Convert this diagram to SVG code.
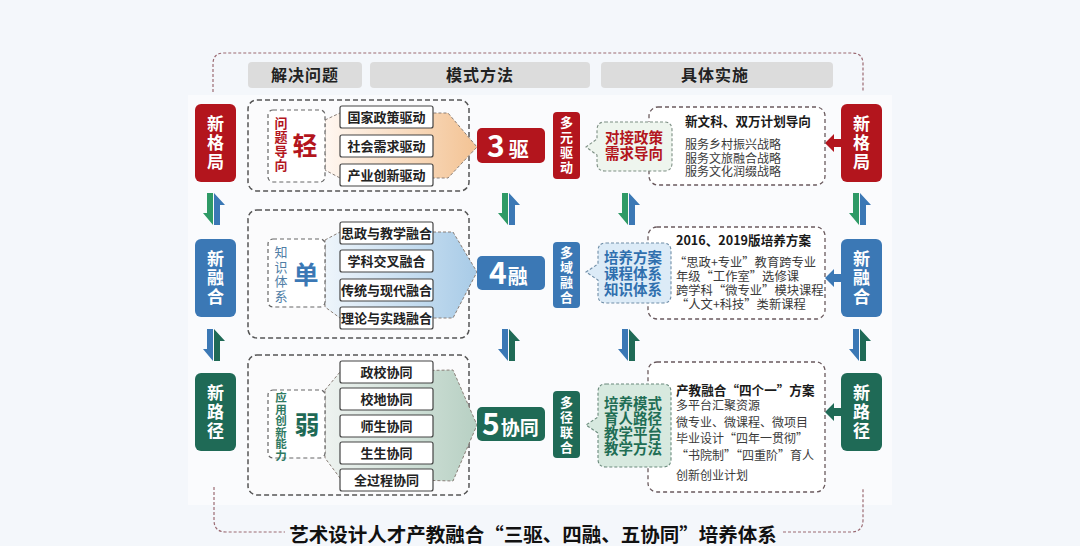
<svg xmlns="http://www.w3.org/2000/svg" width="1080" height="546" viewBox="0 0 1080 546">
<style>
text{font-family:"Noto Sans CJK SC","Noto Sans",sans-serif;}
.hdr{fill:#dcdcdc;}
.hdrt{font-size:16px;font-weight:bold;fill:#222;text-anchor:middle;letter-spacing:1px;}
.nodet{font-size:17px;font-weight:bold;fill:#fff;text-anchor:middle;}
.big{fill:#fbfbfc;stroke:#555;stroke-width:1.5;stroke-dasharray:5 3;}
.inner{fill:#fff;stroke:#666;stroke-width:1.2;stroke-dasharray:4 3;}
.item{fill:#fff;stroke:#444;stroke-width:1.2;}
.itemt{font-size:13px;font-weight:bold;fill:#222;text-anchor:middle;}
.funnel{stroke:#8a7f78;stroke-width:1;stroke-dasharray:3 2;}
.vt{font-size:13px;font-weight:bold;fill:#fff;text-anchor:middle;}
.bt{font-size:14.5px;font-weight:bold;text-anchor:middle;}
.rbox{fill:#fff;stroke:#6a5a5e;stroke-width:1.3;stroke-dasharray:4 3;}
.rt{font-size:12px;fill:#3a3a3a;}
.rtb{font-size:12.6px;font-weight:bold;fill:#1a1a1a;}
.frame{fill:none;stroke:#9b6b73;stroke-width:1.2;stroke-dasharray:3 2;}
.numt{font-weight:bold;fill:#fff;}
</style>
<defs>
<linearGradient id="gRed" x1="0" y1="0" x2="1" y2="0"><stop offset="0" stop-color="#fff7f1"/><stop offset="1" stop-color="#f3c394"/></linearGradient>
<linearGradient id="gBlue" x1="0" y1="0" x2="1" y2="0"><stop offset="0" stop-color="#eef5fb"/><stop offset="1" stop-color="#a8cbe7"/></linearGradient>
<linearGradient id="gGreen" x1="0" y1="0" x2="1" y2="0"><stop offset="0" stop-color="#eef3f0"/><stop offset="1" stop-color="#b7d0c3"/></linearGradient>
<g id="dblA"><polygon points="4,0 10,0 10,32 0,20 4,20" fill="#2e9a66"/><polygon points="11,0 22,12 17,12 17,32 11,32" fill="#3b78b5"/></g>
<g id="dblB"><polygon points="4,0 10,0 10,32 0,20 4,20" fill="#3b78b5"/><polygon points="11,0 22,12 17,12 17,32 11,32" fill="#1f6a56"/></g>
</defs>
<rect x="0" y="0" width="1080" height="546" fill="#f4f7fb"/>
<rect x="188" y="95" width="704" height="410" fill="#fafbfd"/>

<g id="frame">
<path class="frame" d="M213,92 V64 Q213,53 224,53 H852 Q863,53 863,64 V92"/>
<path class="frame" d="M214,487 V520 Q214,532 226,532 H285"/>
<path class="frame" d="M783,532 H851 Q863,532 863,520 V488"/>
</g>

<g id="headers">
<rect class="hdr" x="248" y="62" width="114" height="26" rx="4"/>
<text class="hdrt" x="305" y="81">解决问题</text>
<rect class="hdr" x="370" y="62" width="220" height="26" rx="4"/>
<text class="hdrt" x="480" y="81">模式方法</text>
<rect class="hdr" x="601" y="62" width="232" height="26" rx="4"/>
<text class="hdrt" x="715" y="81">具体实施</text>
</g>

<g id="connectors">
<use href="#dblA" x="203" y="193"/>
<use href="#dblA" x="498" y="193"/>
<use href="#dblA" x="618" y="193"/>
<use href="#dblA" x="849" y="193"/>
<use href="#dblB" x="203" y="329"/>
<use href="#dblB" x="498" y="329"/>
<use href="#dblB" x="618" y="329"/>
<use href="#dblB" x="849" y="329"/>
<polygon points="825,143 834,134 834,139 841,139 841,147 834,147 834,152" fill="#b3151d"/>
<polygon points="825,278 834,269 834,274 841,274 841,282 834,282 834,287" fill="#3b78b5"/>
<polygon points="825,412 834,403 834,408 841,408 841,416 834,416 834,421" fill="#1f6a56"/>
<polygon points="260,146 267,142 267,150" fill="#b8868a"/>
<polygon points="260,273 267,269 267,277" fill="#5a86ad"/>
<polygon points="260,425 267,421 267,429" fill="#2f7a62"/>
</g>

<!-- Left nodes -->
<g id="node-left-1">
<rect x="195" y="104" width="41" height="78" rx="6" fill="#b3151d"/>
<text class="nodet"><tspan x="215.5" y="130">新</tspan><tspan x="215.5" y="149">格</tspan><tspan x="215.5" y="168">局</tspan></text>
</g>
<g id="node-left-2">
<rect x="195" y="239" width="41" height="78" rx="6" fill="#3b78b5"/>
<text class="nodet"><tspan x="215.5" y="265">新</tspan><tspan x="215.5" y="284">融</tspan><tspan x="215.5" y="303">合</tspan></text>
</g>
<g id="node-left-3">
<rect x="195" y="373" width="41" height="78" rx="6" fill="#1f6a56"/>
<text class="nodet"><tspan x="215.5" y="399">新</tspan><tspan x="215.5" y="418">路</tspan><tspan x="215.5" y="437">径</tspan></text>
</g>

<!-- Right nodes -->
<g id="node-right-1">
<rect x="841" y="104" width="41" height="78" rx="6" fill="#b3151d"/>
<text class="nodet"><tspan x="861.5" y="130">新</tspan><tspan x="861.5" y="149">格</tspan><tspan x="861.5" y="168">局</tspan></text>
</g>
<g id="node-right-2">
<rect x="841" y="239" width="41" height="78" rx="6" fill="#3b78b5"/>
<text class="nodet"><tspan x="861.5" y="265">新</tspan><tspan x="861.5" y="284">融</tspan><tspan x="861.5" y="303">合</tspan></text>
</g>
<g id="node-right-3">
<rect x="841" y="373" width="41" height="78" rx="6" fill="#1f6a56"/>
<text class="nodet"><tspan x="861.5" y="399">新</tspan><tspan x="861.5" y="418">路</tspan><tspan x="861.5" y="437">径</tspan></text>
</g>

<!-- Implementation boxes (drawn below the bubbles) -->
<g id="impl-1">
<rect class="rbox" x="649" y="107" width="176" height="78" rx="9"/>
<text class="rtb" x="685" y="126">新文科、双万计划导向</text>
<text class="rt"><tspan x="685" y="149">服务乡村振兴战略</tspan><tspan x="685" y="162.5">服务文旅融合战略</tspan><tspan x="685" y="176">服务文化润缀战略</tspan></text>
</g>
<g id="impl-2">
<rect class="rbox" x="648" y="227" width="177" height="92" rx="9"/>
<text class="rtb" x="676" y="245">2016、2019版培养方案</text>
<text class="rt" style="font-size:12.3px"><tspan x="674" y="267">“思政+专业”教育跨专业</tspan><tspan x="676" y="281">年级“工作室”选修课</tspan><tspan x="676" y="295">跨学科“微专业”模块课程</tspan><tspan x="676" y="309">“人文+科技”类新课程</tspan></text>
</g>
<g id="impl-3">
<rect class="rbox" x="648" y="362" width="177" height="130" rx="9"/>
<text class="rtb" x="676" y="395">产教融合“四个一”方案</text>
<text class="rt"><tspan x="676" y="410">多平台汇聚资源</tspan><tspan x="676" y="427">微专业、微课程、微项目</tspan><tspan x="676" y="443">毕业设计“四年一贯彻”</tspan><tspan x="676" y="460">“书院制”“四重阶”育人</tspan><tspan x="676" y="480">创新创业计划</tspan></text>
</g>

<!-- Row 1 -->
<g id="problem-1">
<rect class="big" x="248" y="100" width="221" height="91" rx="9" fill="#fdf9f7"/>
<polygon class="funnel" points="325,120 340,113 448,113 477,147 448,178 340,178 325,170" fill="url(#gRed)"/>
<rect class="inner" x="268" y="110" width="57" height="72" rx="5"/>
<text style="font-size:13px;font-weight:bold;fill:#b3151d;text-anchor:middle"><tspan x="281" y="128">问</tspan><tspan x="281" y="142">题</tspan><tspan x="281" y="156">导</tspan><tspan x="281" y="170">向</tspan></text>
<text x="305" y="155" style="font-size:25px;font-weight:bold;fill:#b3151d;text-anchor:middle">轻</text>
<rect class="item" x="340" y="106" width="93" height="22" rx="2"/>
<text class="itemt" x="386.5" y="122">国家政策驱动</text>
<rect class="item" x="340" y="135" width="93" height="22" rx="2"/>
<text class="itemt" x="386.5" y="151">社会需求驱动</text>
<rect class="item" x="340" y="164" width="93" height="22" rx="2"/>
<text class="itemt" x="386.5" y="180">产业创新驱动</text>
</g>
<g id="mode-1">
<rect x="477" y="128" width="68" height="35" rx="5" fill="#b3151d"/>
<text class="numt" x="487" y="157"><tspan style="font-size:30px">3</tspan><tspan dx="4" style="font-size:20px">驱</tspan></text>
</g>
<g id="tag-1">
<rect x="553" y="112" width="27" height="67" rx="4" fill="#b3151d"/>
<text class="vt"><tspan x="566.5" y="127">多</tspan><tspan x="566.5" y="142">元</tspan><tspan x="566.5" y="157">驱</tspan><tspan x="566.5" y="172">动</tspan></text>
</g>
<g id="bubble-1">
<path d="M605,122 H664 Q672,122 672,130 V163 Q672,171 664,171 H605 Q597,171 597,163 V155 L586,147 L597,139 V130 Q597,122 605,122 Z" fill="#eef5ee" stroke="#7d8f84" stroke-width="1.1" stroke-dasharray="3 2"/>
<text class="bt" style="fill:#b3151d"><tspan x="634" y="143">对接政策</tspan><tspan x="634" y="159">需求导向</tspan></text>
</g>

<!-- Row 2 -->
<g id="problem-2">
<rect class="big" x="248" y="210" width="221" height="128" rx="9" fill="#fbfcfd"/>
<polygon class="funnel" points="325,240 340,232 453,232 477,272 453,318 340,318 325,307" fill="url(#gBlue)"/>
<rect class="inner" x="268" y="239" width="57" height="68" rx="5"/>
<text style="font-size:13px;fill:#4f7ea6;text-anchor:middle"><tspan x="281" y="257">知</tspan><tspan x="281" y="271.5">识</tspan><tspan x="281" y="286">体</tspan><tspan x="281" y="300.5">系</tspan></text>
<text x="306" y="284" style="font-size:25px;font-weight:bold;fill:#3b78b5;text-anchor:middle">单</text>
<rect class="item" x="340" y="222" width="93" height="22" rx="2"/>
<text class="itemt" x="386.5" y="238">思政与教学融合</text>
<rect class="item" x="340" y="250" width="93" height="22" rx="2"/>
<text class="itemt" x="386.5" y="266">学科交叉融合</text>
<rect class="item" x="340" y="279" width="93" height="22" rx="2"/>
<text class="itemt" x="386.5" y="295">传统与现代融合</text>
<rect class="item" x="340" y="307" width="93" height="22" rx="2"/>
<text class="itemt" x="386.5" y="323">理论与实践融合</text>
</g>
<g id="mode-2">
<rect x="477" y="256" width="68" height="34" rx="5" fill="#3b78b5"/>
<text class="numt" x="489" y="284"><tspan style="font-size:30px">4</tspan><tspan dx="1" style="font-size:20px">融</tspan></text>
</g>
<g id="tag-2">
<rect x="553" y="242" width="27" height="66" rx="4" fill="#3b78b5"/>
<text class="vt"><tspan x="566.5" y="257">多</tspan><tspan x="566.5" y="272">域</tspan><tspan x="566.5" y="287">融</tspan><tspan x="566.5" y="302">合</tspan></text>
</g>
<g id="bubble-2">
<path d="M606,243 H663 Q671,243 671,251 V295 Q671,303 663,303 H606 Q598,303 598,295 V280 L586,272 L598,264 V251 Q598,243 606,243 Z" fill="#dcebf7" stroke="#6f8ea8" stroke-width="1.1" stroke-dasharray="3 2"/>
<text class="bt" style="fill:#2f6fae"><tspan x="633" y="263">培养方案</tspan><tspan x="633" y="279">课程体系</tspan><tspan x="633" y="295">知识体系</tspan></text>
</g>

<!-- Row 3 -->
<g id="problem-3">
<rect class="big" x="248" y="355" width="221" height="140" rx="9" fill="#fbfcfc"/>
<polygon class="funnel" points="325,390 340,372 453,370 477,425 453,481 340,478 325,458" fill="url(#gGreen)"/>
<rect class="inner" x="268" y="390" width="57" height="68" rx="5"/>
<text style="font-size:11.5px;font-weight:bold;fill:#2f7a62;text-anchor:middle"><tspan x="281" y="402">应</tspan><tspan x="281" y="413.5">用</tspan><tspan x="281" y="425">创</tspan><tspan x="281" y="436.5">新</tspan><tspan x="281" y="448">能</tspan><tspan x="281" y="459.5">力</tspan></text>
<text x="307" y="434" style="font-size:25px;font-weight:bold;fill:#1f6a56;text-anchor:middle">弱</text>
<rect class="item" x="340" y="361" width="93" height="22" rx="2"/>
<text class="itemt" x="386.5" y="377">政校协同</text>
<rect class="item" x="340" y="388" width="93" height="22" rx="2"/>
<text class="itemt" x="386.5" y="404">校地协同</text>
<rect class="item" x="340" y="415" width="93" height="22" rx="2"/>
<text class="itemt" x="386.5" y="431">师生协同</text>
<rect class="item" x="340" y="442" width="93" height="22" rx="2"/>
<text class="itemt" x="386.5" y="458">生生协同</text>
<rect class="item" x="340" y="469" width="93" height="22" rx="2"/>
<text class="itemt" x="386.5" y="485">全过程协同</text>
</g>
<g id="mode-3">
<rect x="477" y="407" width="68" height="34" rx="5" fill="#1f6a56"/>
<text class="numt" x="482" y="435"><tspan style="font-size:30px">5</tspan><tspan dx="1" style="font-size:19px">协同</tspan></text>
</g>
<g id="tag-3">
<rect x="553" y="391" width="27" height="67" rx="4" fill="#1f6a56"/>
<text class="vt"><tspan x="566.5" y="407">多</tspan><tspan x="566.5" y="422">径</tspan><tspan x="566.5" y="437">联</tspan><tspan x="566.5" y="452">合</tspan></text>
</g>
<g id="bubble-3">
<path d="M606,384 H663 Q671,384 671,392 V459 Q671,467 663,467 H606 Q598,467 598,459 V433 L586,425 L598,417 V392 Q598,384 606,384 Z" fill="#d7e9df" stroke="#6a8a7c" stroke-width="1.1" stroke-dasharray="3 2"/>
<text class="bt" style="fill:#1f6e55"><tspan x="633" y="408.5">培养模式</tspan><tspan x="633" y="423.5">育人路径</tspan><tspan x="633" y="438.5">教学平台</tspan><tspan x="633" y="453.5">教学方法</tspan></text>
</g>

<g id="title">
<text x="533" y="542" style="font-size:19.5px;font-weight:bold;fill:#111;text-anchor:middle">艺术设计人才产教融合“三驱、四融、五协同”培养体系</text>
</g>
</svg>
